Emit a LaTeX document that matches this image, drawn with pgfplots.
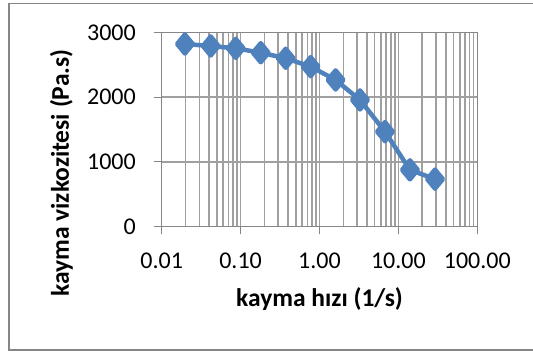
\documentclass[border=0pt]{standalone}
\usepackage{pgfplots}
\pgfplotsset{compat=1.18}
\usepackage{fontspec}
\setmainfont{Carlito}
\definecolor{serblue}{RGB}{79,129,189}
\definecolor{gridgray}{RGB}{160,160,160}
\definecolor{axgray}{RGB}{134,134,134}
\begin{document}
\begin{tikzpicture}
\begin{axis}[
  name=ax,
  scale only axis, width=315.6bp, height=193.6bp,
  xmode=log,
  xmin=0.01, xmax=100, ymin=0, ymax=3000,
  xtick={0.01,0.1,1,10,100},
  xticklabels={0.01,0.10,1.00,10.00,100.00},
  ytick={0,1000,2000,3000},
  yticklabels={0,1000,2000,3000},
  grid=both,
  grid style={gridgray, line width=1.5bp},
  axis line style={axgray, line width=1.3bp},
  tick style={axgray, line width=1.3bp},
  tick align=outside,
  major tick length=8bp,
  minor tick length=0pt,
  xtick pos=left, ytick pos=left,
  tick label style={font=\fontsize{24bp}{29bp}\selectfont},
  xticklabel style={anchor=north, inner sep=0pt, yshift=-18.7bp},
  yticklabel style={anchor=east, inner sep=0pt, xshift=-17.7bp},
  label style={font=\bfseries\fontsize{25.5bp}{31bp}\selectfont},
  xlabel={kayma hızı (1/s)},
  xlabel style={at={(axis description cs:0.5,-0.415)}, anchor=base, inner sep=0pt},
  ylabel={kayma vizkozitesi (Pa.s)},
  ylabel style={at={(axis description cs:-0.294,0.275)}, anchor=base, inner sep=0pt},
]
\addplot[serblue, line width=4.5bp, line join=round, mark=diamond*, mark size=9.5bp, mark options={xscale=1.1, solid, fill=serblue}]
coordinates {
(0.0197,2825) (0.0418,2794) (0.0867,2758) (0.180,2690) (0.373,2604)
(0.773,2474) (1.60,2268) (3.26,1958) (6.76,1467) (14.0,875) (29.1,731)
};
\end{axis}
\useasboundingbox ([xshift=-161.7bp,yshift=-126.7bp]ax.south west) rectangle ([xshift=371.3bp,yshift=226.3bp]ax.south west);
\draw[axgray, line width=1.5bp] ([xshift=371.3bp,yshift=223bp]ax.south west) -- ([xshift=-152.7bp,yshift=223bp]ax.south west) -- ([xshift=-152.7bp,yshift=-123.7bp]ax.south west) -- ([xshift=371.3bp,yshift=-123.7bp]ax.south west);
\end{tikzpicture}
\end{document}
